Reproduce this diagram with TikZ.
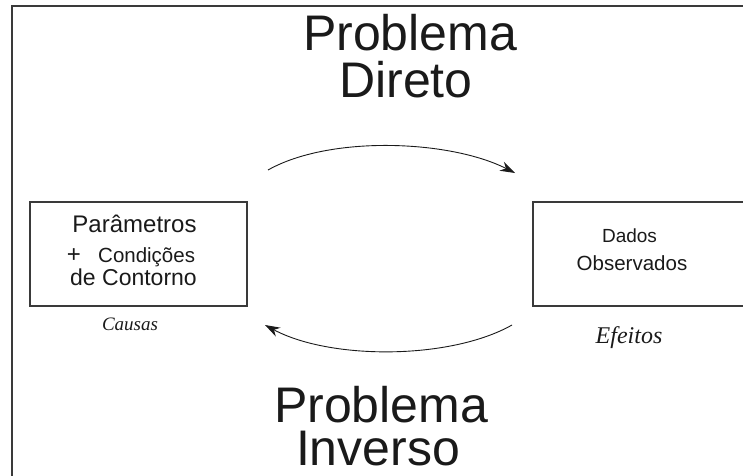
\documentclass[tikz,border=0pt]{standalone}
\usepackage{fontspec}
\setmainfont{Liberation Sans}
\newfontfamily\serifit{Liberation Serif}
\usetikzlibrary{arrows.meta}
\definecolor{ink}{HTML}{1A1A1A}
\definecolor{frame}{HTML}{3A3A3A}
\begin{document}
\begin{tikzpicture}[x=1pt,y=-1pt,
  txt/.style={inner sep=0pt,anchor=base,text=ink},
  bigtxt/.style={txt,font=\fontsize{50}{50}\selectfont,text height=36pt,text depth=0pt},
  boxnode/.style={draw=frame,line width=1.1pt,inner sep=0pt},
  flow/.style={draw=ink,line width=0.9pt,-{Stealth[length=15pt,width=10pt]}}]
\useasboundingbox (0,0) rectangle (743,475);
\clip (0,0) rectangle (743,475);
% outer frame
\coordinate (fbl) at (12,476);
\coordinate (ftl) at (12,6);
\coordinate (ftr) at (744,6);
\draw[frame,line width=1.1pt] (fbl) -- (ftl) -- (ftr);
% boxes
\node[boxnode,minimum width=217pt,minimum height=104pt] (causas) at (138.5,254) {};
\node[boxnode,minimum width=217pt,minimum height=104pt] (efeitos) at (641.5,254) {};
% titles
\node[bigtxt] (pd1) at (410,50) {Problema};
\node[bigtxt] (pd2) at (406,97) {Direto};
\node[bigtxt] (pi1) at (381,422) {Problema};
\node[bigtxt] (pi2) at (378,465) {Inverso};
% left box text
\node[txt,font=\fontsize{24}{24}\selectfont] (par) at (134.5,232) {Parâmetros};
\node[txt,font=\fontsize{24}{24}\selectfont] (plus) at (74,262) {+};
\node[txt,anchor=base west,font=\fontsize{20.5}{20.5}\selectfont] (cond) at (98,262) {Condições};
\node[txt,font=\fontsize{23}{23}\selectfont] (cont) at (133.5,285) {de Contorno};
% right box text
\node[txt,font=\fontsize{19}{19}\selectfont] (dados) at (629.5,242) {Dados};
\node[txt,font=\fontsize{20.5}{20.5}\selectfont] (obs) at (632,270) {Observados};
% captions
\node[txt,font=\serifit\itshape\fontsize{19}{19}\selectfont] (lc) at (130,330) {Causas};
\node[txt,font=\serifit\itshape\fontsize{24}{24}\selectfont] (le) at (629,343) {Efeitos};
% arrows
\coordinate (ds) at (268,170);
\coordinate (de) at (515,173);
\coordinate (is) at (512,325);
\coordinate (ie) at (265,325);
\draw[flow] (ds) .. controls (330,135) and (450,140) .. (de);
\draw[flow] (is) .. controls (450,360) and (330,360) .. (ie);
\end{tikzpicture}
\end{document}
